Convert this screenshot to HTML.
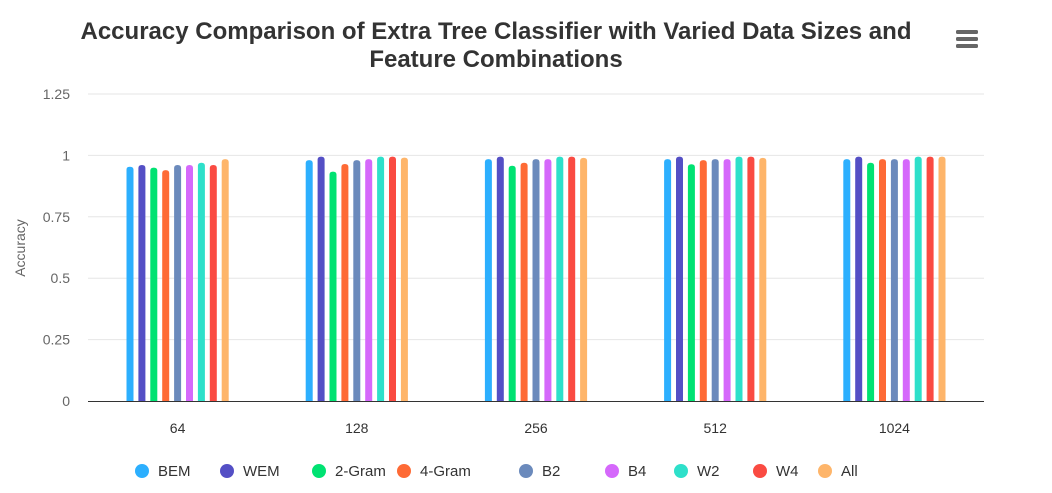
<!DOCTYPE html>
<html><head><meta charset="utf-8"><style>
body{margin:0;background:#fff;font-family:"Liberation Sans",Arial,sans-serif;}
svg text{font-family:"Liberation Sans",Arial,sans-serif;}
</style></head><body>
<svg id="c" width="1052" height="488">
<text x="496" y="39" text-anchor="middle" font-size="24" font-weight="bold" fill="#333"><tspan x="496">Accuracy Comparison of Extra Tree Classifier with Varied Data Sizes and</tspan><tspan x="496" dy="28">Feature Combinations</tspan></text>
<g fill="#666">
<rect x="956" y="30" width="22" height="4" rx="1.5"/><rect x="956" y="37" width="22" height="4" rx="1.5"/><rect x="956" y="44" width="22" height="4" rx="1.5"/>
</g>
<text transform="translate(25,248) rotate(-90)" text-anchor="middle" font-size="14" fill="#666">Accuracy</text>
<g id="grid"></g><g id="bars"></g><g id="legend"></g>
</svg>
<script>
const categories=["64","128","256","512","1024"];
const seriesNames=["BEM","WEM","2-Gram","4-Gram","B2","B4","W2","W4","All"];
const colors=["#2caffe","#544fc5","#00e272","#fe6a35","#6b8abc","#d568fb","#2ee0ca","#fa4b42","#feb56a"];
const BEM=[0.954,0.981,0.985,0.985,0.985];
const WEM=[0.961,0.995,0.995,0.995,0.995];
const G2=[0.950,0.934,0.958,0.964,0.970];
const G4=[0.940,0.965,0.970,0.981,0.985];
const B2=[0.961,0.981,0.985,0.985,0.985];
const B4=[0.961,0.985,0.985,0.985,0.985];
const W2=[0.970,0.995,0.995,0.995,0.995];
const W4=[0.961,0.995,0.995,0.995,0.995];
const ALL=[0.985,0.991,0.990,0.990,0.995];
const yTicks=[0,0.25,0.5,0.75,1,1.25];
const series=[BEM,WEM,G2,G4,B2,B4,W2,W4,ALL];
const NS="http://www.w3.org/2000/svg";
const L=88,R=984,T=94,B=401,ymax=1.25;
const yS=v=>B-(v/ymax)*(B-T);
const cw=(R-L)/categories.length;
const xC=i=>L+cw*(i+0.5);
function mk(t,a,p){const e=document.createElementNS(NS,t);for(const k in a)e.setAttribute(k,a[k]);p.appendChild(e);return e;}
const grid=document.getElementById('grid');
yTicks.forEach(t=>{
  const y=yS(t);
  if(t>0){const l=mk('line',{x1:L,x2:R,y1:y,y2:y,stroke:'#e6e6e6','stroke-width':1},grid);
  
  }
  const tx=mk('text',{x:70,y:y+5,'text-anchor':'end','font-size':14,fill:'#666'},grid);tx.textContent=String(t);
  
  
});
const ax=mk('line',{x1:L,x2:R,y1:B+0.5,y2:B+0.5,stroke:'#333','stroke-width':1},grid);


categories.forEach((c,i)=>{
  const tx=mk('text',{x:xC(i),y:433,'text-anchor':'middle','font-size':14,fill:'#333'},grid);tx.textContent=c;
  
  
});
const bars=document.getElementById('bars');
const sp=11.9,bw=7;
series.forEach((s,si)=>{
  s.forEach((v,i)=>{
    const cx=xC(i)+(si-4)*sp;
    const y=yS(v);
    const r=mk('path',{d:`M${cx-bw/2},${B} L${cx-bw/2},${y+3} Q${cx-bw/2},${y} ${cx},${y} Q${cx+bw/2},${y} ${cx+bw/2},${y+3} L${cx+bw/2},${B} Z`,fill:colors[si]},bars);
    
    
  });
});
const leg=document.getElementById('legend');
const lx=[142,227,319,404,526,612,681,760,825];
seriesNames.forEach((n,i)=>{
  const g=mk('g',{},leg);
  
  
  mk('circle',{cx:lx[i],cy:471,r:7,fill:colors[i]},g);
  const t=mk('text',{x:lx[i]+16,y:476,'font-size':15,fill:'#333'},g);t.textContent=n;
});
</script>
</body></html>
